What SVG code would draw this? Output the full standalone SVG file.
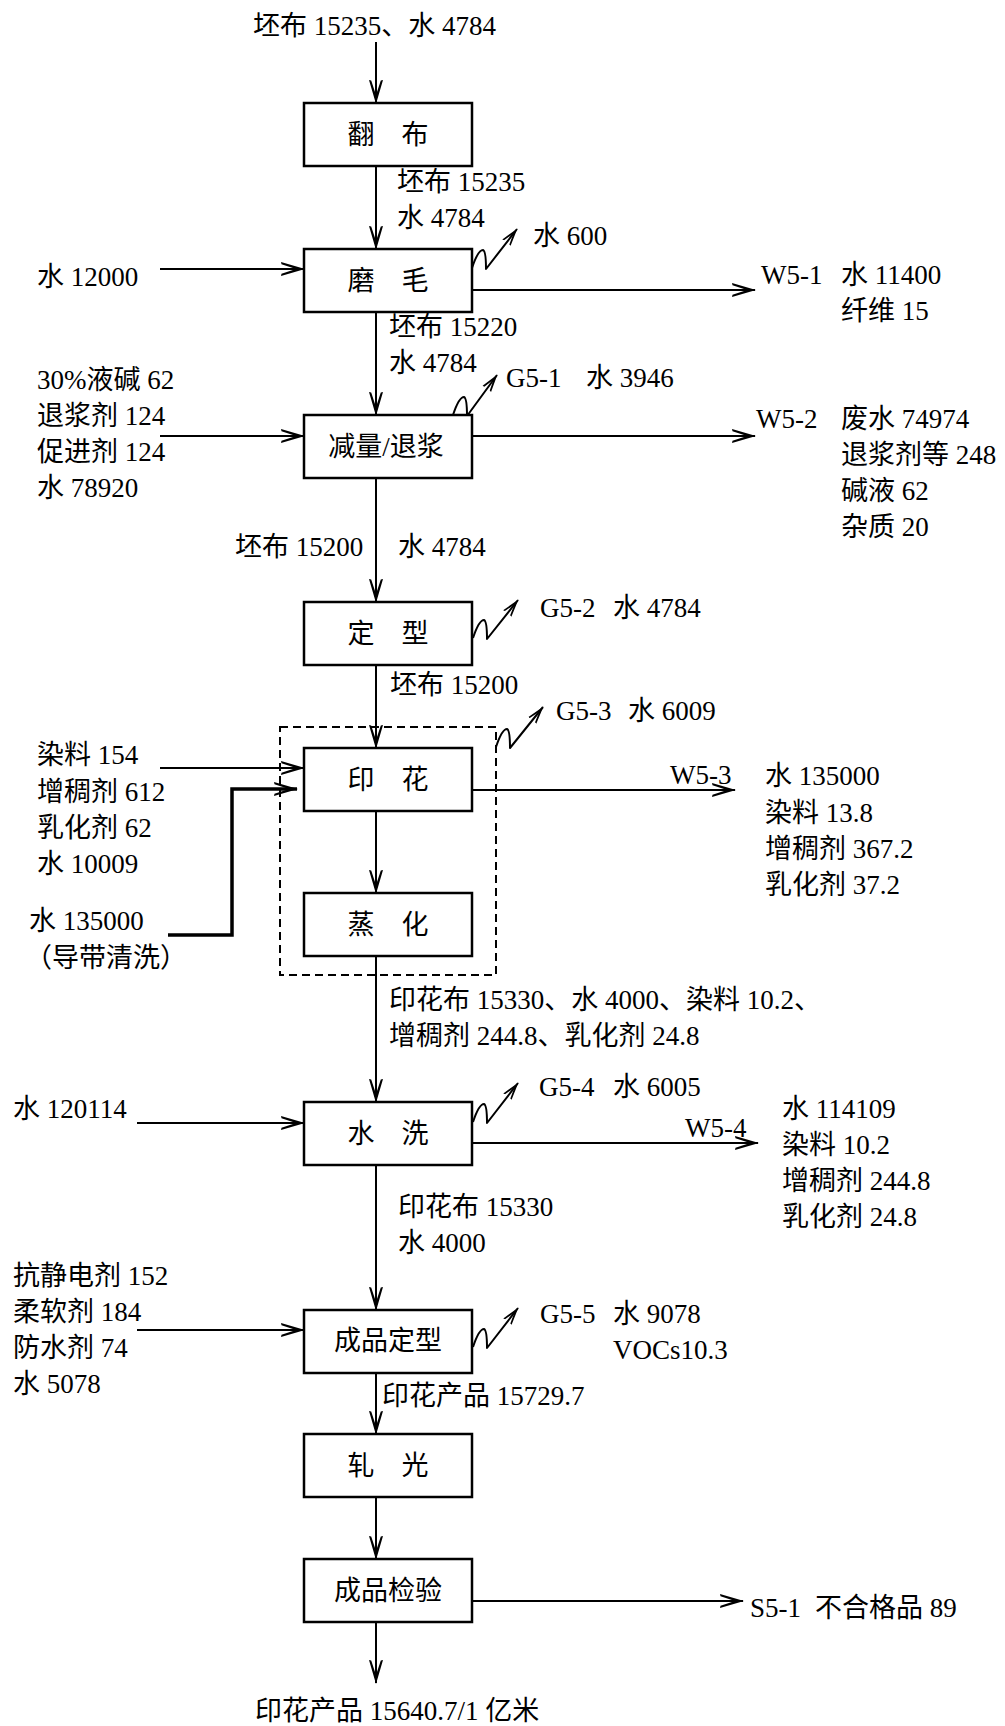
<svg xmlns="http://www.w3.org/2000/svg" width="1005" height="1726" viewBox="0 0 1005 1726">
<style>
text{font-family:"Liberation Serif",serif;font-size:27px;fill:#000}
.k{font-family:"Noto Sans CJK SC",sans-serif}
.c{text-anchor:middle}
.box{fill:#fff;stroke:#000;stroke-width:2.5}
.ln{fill:none;stroke:#000;stroke-width:2;marker-end:url(#arr)}
.tk{fill:none;stroke:#000;stroke-width:3.5;marker-end:url(#arr)}
.wv{fill:none;stroke:#000;stroke-width:2;stroke-linejoin:round;marker-end:url(#arrs)}
.dash{fill:none;stroke:#000;stroke-width:2;stroke-dasharray:8 5}
</style>
<defs>
<marker id="arr" markerUnits="userSpaceOnUse" viewBox="0 0 24 16" refX="23" refY="8" markerWidth="24" markerHeight="16" orient="auto">
<path d="M24,8 L0,1 L0.5,3.2 L15,8 L0.5,12.8 L0,15 Z" fill="#000"/>
</marker>
<marker id="arrs" markerUnits="userSpaceOnUse" viewBox="0 0 24 16" refX="23" refY="8" markerWidth="18" markerHeight="12" orient="auto">
<path d="M24,8 L0,1 L0.5,3.5 L15,8 L0.5,12.5 L0,15 Z" fill="#000"/>
</marker>
</defs>

<g id="connectors">
<line class="ln" x1="376" y1="42" x2="376" y2="103"/>
<line class="ln" x1="376" y1="166" x2="376" y2="249"/>
<line class="ln" x1="376" y1="311" x2="376" y2="415"/>
<line class="ln" x1="376" y1="478" x2="376" y2="602"/>
<line class="ln" x1="376" y1="665" x2="376" y2="748"/>
<line class="ln" x1="376" y1="810" x2="376" y2="893"/>
<line class="ln" x1="376" y1="956" x2="376" y2="1102"/>
<line class="ln" x1="376" y1="1164" x2="376" y2="1310"/>
<line class="ln" x1="376" y1="1372" x2="376" y2="1434"/>
<line class="ln" x1="376" y1="1497" x2="376" y2="1559"/>
<line class="ln" x1="376" y1="1622" x2="376" y2="1683"/>
<line class="ln" x1="160" y1="269" x2="304" y2="269"/>
<line class="ln" x1="160" y1="436" x2="304" y2="436"/>
<line class="ln" x1="160" y1="768" x2="304" y2="768"/>
<path class="tk" d="M168,935 H232 V789 H297"/>
<line class="ln" x1="137" y1="1123" x2="304" y2="1123"/>
<line class="ln" x1="137" y1="1330" x2="304" y2="1330"/>
<line class="ln" x1="472" y1="290" x2="755" y2="290"/>
<line class="ln" x1="472" y1="436" x2="755" y2="436"/>
<line class="ln" x1="472" y1="790" x2="735" y2="790"/>
<line class="ln" x1="472" y1="1143" x2="758" y2="1143"/>
<line class="ln" x1="472" y1="1601" x2="743" y2="1601"/>
<path class="wv" d="M472,268 Q478,250 483,250 Q486,251 486,269 L517,229"/>
<path class="wv" d="M453,415 Q459,397 464,397 Q467,398 467,416 L497,375"/>
<path class="wv" d="M473,638 Q479,620 484,620 Q487,621 487,639 L518,600"/>
<path class="wv" d="M496,747 Q502,729 507,729 Q510,730 510,748 L543,707"/>
<path class="wv" d="M473,1122 Q479,1104 484,1104 Q487,1105 487,1123 L518,1083"/>
<path class="wv" d="M473,1347 Q479,1329 484,1329 Q487,1330 487,1348 L518,1308"/>
</g>

<rect id="print-group" class="dash" x="280" y="727" width="216" height="248"/>

<g id="n-fanbu"><rect class="box" x="304" y="103" width="168" height="63"/><text class="c k" x="388" y="144">翻　布</text></g>
<g id="n-mamao"><rect class="box" x="304" y="249" width="168" height="63"/><text class="c k" x="388" y="290">磨　毛</text></g>
<g id="n-jianliang"><rect class="box" x="304" y="415" width="168" height="63"/><text class="c" x="386" y="456"><tspan class="k">减量</tspan>/<tspan class="k">退浆</tspan></text></g>
<g id="n-dingxing"><rect class="box" x="304" y="602" width="168" height="63"/><text class="c k" x="388" y="643">定　型</text></g>
<g id="n-yinhua"><rect class="box" x="304" y="748" width="168" height="63"/><text class="c k" x="388" y="789">印　花</text></g>
<g id="n-zhenghua"><rect class="box" x="304" y="893" width="168" height="63"/><text class="c k" x="388" y="934">蒸　化</text></g>
<g id="n-shuixi"><rect class="box" x="304" y="1102" width="168" height="63"/><text class="c k" x="388" y="1143">水　洗</text></g>
<g id="n-chengpindingxing"><rect class="box" x="304" y="1310" width="168" height="63"/><text class="c k" x="388" y="1350">成品定型</text></g>
<g id="n-yaguang"><rect class="box" x="304" y="1434" width="168" height="63"/><text class="c k" x="388" y="1475">轧　光</text></g>
<g id="n-jianyan"><rect class="box" x="304" y="1559" width="168" height="63"/><text class="c k" x="388" y="1600">成品检验</text></g>

<g id="labels">
<text x="253" y="35"><tspan class="k">坯布</tspan> 15235<tspan class="k">、水</tspan> 4784</text>
<text x="397" y="191"><tspan class="k">坯布</tspan> 15235</text>
<text x="397" y="227"><tspan class="k">水</tspan> 4784</text>
<text x="37" y="286"><tspan class="k">水</tspan> 12000</text>
<text x="533" y="245"><tspan class="k">水</tspan> 600</text>
<text x="761" y="284">W5-1</text>
<text x="841" y="284"><tspan class="k">水</tspan> 11400</text>
<text x="841" y="320"><tspan class="k">纤维</tspan> 15</text>
<text x="389" y="336"><tspan class="k">坯布</tspan> 15220</text>
<text x="389" y="372"><tspan class="k">水</tspan> 4784</text>
<text x="37" y="389">30%<tspan class="k">液碱</tspan> 62</text>
<text x="37" y="425"><tspan class="k">退浆剂</tspan> 124</text>
<text x="37" y="461"><tspan class="k">促进剂</tspan> 124</text>
<text x="37" y="497"><tspan class="k">水</tspan> 78920</text>
<text x="506" y="387">G5-1</text>
<text x="586" y="387"><tspan class="k">水</tspan> 3946</text>
<text x="756" y="428">W5-2</text>
<text x="841" y="428"><tspan class="k">废水</tspan> 74974</text>
<text x="841" y="464"><tspan class="k">退浆剂等</tspan> 248</text>
<text x="841" y="500"><tspan class="k">碱液</tspan> 62</text>
<text x="841" y="536"><tspan class="k">杂质</tspan> 20</text>
<text x="235" y="556"><tspan class="k">坯布</tspan> 15200</text>
<text x="398" y="556"><tspan class="k">水</tspan> 4784</text>
<text x="540" y="617">G5-2</text>
<text x="613" y="617"><tspan class="k">水</tspan> 4784</text>
<text x="390" y="694"><tspan class="k">坯布</tspan> 15200</text>
<text x="556" y="720">G5-3</text>
<text x="628" y="720"><tspan class="k">水</tspan> 6009</text>
<text x="37" y="764"><tspan class="k">染料</tspan> 154</text>
<text x="37" y="801"><tspan class="k">增稠剂</tspan> 612</text>
<text x="37" y="837"><tspan class="k">乳化剂</tspan> 62</text>
<text x="37" y="873"><tspan class="k">水</tspan> 10009</text>
<text x="29" y="930"><tspan class="k">水</tspan> 135000</text>
<text class="k" x="25" y="967">（导带清洗）</text>
<text x="670" y="784">W5-3</text>
<text x="765" y="785"><tspan class="k">水</tspan> 135000</text>
<text x="765" y="822"><tspan class="k">染料</tspan> 13.8</text>
<text x="765" y="858"><tspan class="k">增稠剂</tspan> 367.2</text>
<text x="765" y="894"><tspan class="k">乳化剂</tspan> 37.2</text>
<text x="389" y="1009"><tspan class="k">印花布</tspan> 15330<tspan class="k">、水</tspan> 4000<tspan class="k">、染料</tspan> 10.2<tspan class="k">、</tspan></text>
<text x="389" y="1045"><tspan class="k">增稠剂</tspan> 244.8<tspan class="k">、乳化剂</tspan> 24.8</text>
<text x="539" y="1096">G5-4</text>
<text x="613" y="1096"><tspan class="k">水</tspan> 6005</text>
<text x="13" y="1118"><tspan class="k">水</tspan> 120114</text>
<text x="685" y="1137">W5-4</text>
<text x="782" y="1118"><tspan class="k">水</tspan> 114109</text>
<text x="782" y="1154"><tspan class="k">染料</tspan> 10.2</text>
<text x="782" y="1190"><tspan class="k">增稠剂</tspan> 244.8</text>
<text x="782" y="1226"><tspan class="k">乳化剂</tspan> 24.8</text>
<text x="398" y="1216"><tspan class="k">印花布</tspan> 15330</text>
<text x="398" y="1252"><tspan class="k">水</tspan> 4000</text>
<text x="13" y="1285"><tspan class="k">抗静电剂</tspan> 152</text>
<text x="13" y="1321"><tspan class="k">柔软剂</tspan> 184</text>
<text x="13" y="1357"><tspan class="k">防水剂</tspan> 74</text>
<text x="13" y="1393"><tspan class="k">水</tspan> 5078</text>
<text x="540" y="1323">G5-5</text>
<text x="613" y="1323"><tspan class="k">水</tspan> 9078</text>
<text x="613" y="1359">VOCs10.3</text>
<text x="382" y="1405"><tspan class="k">印花产品</tspan> 15729.7</text>
<text x="750" y="1617">S5-1</text>
<text x="815" y="1617"><tspan class="k">不合格品</tspan> 89</text>
<text x="255" y="1720"><tspan class="k">印花产品</tspan> 15640.7/1 <tspan class="k">亿米</tspan></text>
</g>
</svg>
